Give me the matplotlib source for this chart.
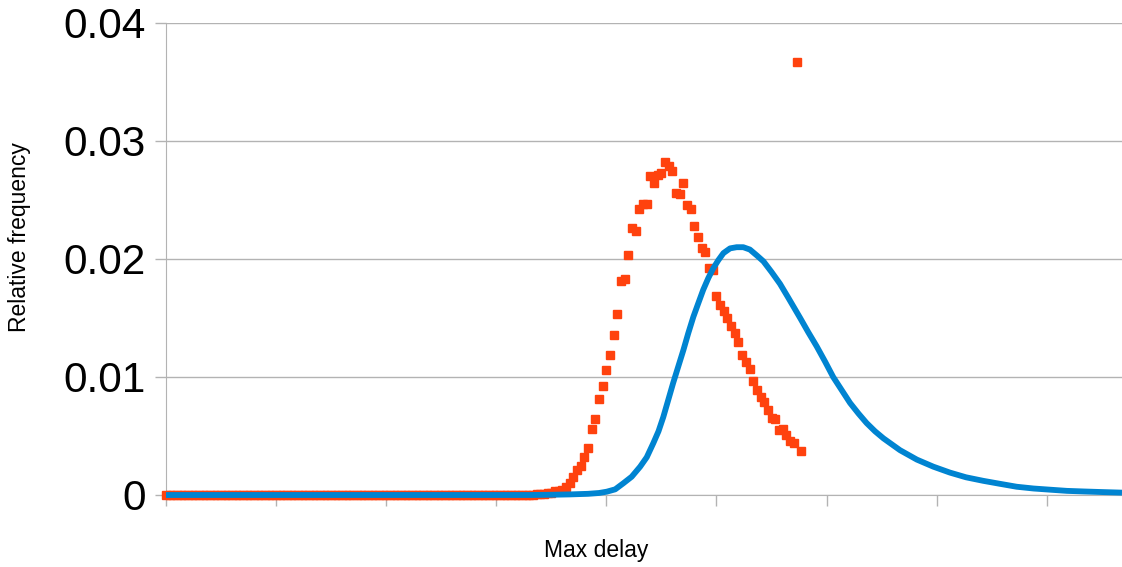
"""Max delay distribution: observed relative frequency vs fitted curve."""

import matplotlib

matplotlib.use("Agg")
import matplotlib.pyplot as plt

# observed relative frequency, one value per delay step (0..173)
obs_zero = [0.0] * 101
obs_tail = [
    0.0001, 0.0001, 0.0001, 0.0002, 0.0002, 0.0003, 0.0003,
    0.0004, 0.0007, 0.0010, 0.0015, 0.0021, 0.0025, 0.0032, 0.0040,
    0.0056, 0.0064, 0.0081, 0.0092, 0.0106, 0.0119, 0.0136, 0.0153,
    0.0181, 0.0183, 0.0203, 0.0226, 0.0224, 0.0242, 0.0247, 0.0247,
    0.0270, 0.0264, 0.0271, 0.0273, 0.0282, 0.0279, 0.0275, 0.0256,
    0.0255, 0.0264, 0.0246, 0.0242, 0.0228, 0.0219, 0.0209, 0.0206,
    0.0192, 0.0191, 0.0169, 0.0161, 0.0156, 0.0150, 0.0143, 0.0137,
    0.0130, 0.0119, 0.0113, 0.0107, 0.0097, 0.0089, 0.0083, 0.0079,
    0.0072, 0.0065, 0.0064, 0.0055, 0.0056, 0.0051, 0.0046, 0.0044,
    0.0367, 0.0037,
]
obs_y = obs_zero + obs_tail
obs_x = list(range(len(obs_y)))

# fitted curve
fit_x = [0, 60, 99, 105, 110, 115, 118, 120.1, 122.4, 124.6, 126.9, 129.2,
         131.0, 132.8, 134.2, 135.5, 136.9, 138.2, 139.6, 141.0, 142.3, 143.7,
         145.1, 146.4, 147.8, 149.1, 150.5, 151.9, 153.7, 155.5, 157.3, 159.1,
         161.0, 162.8, 165.0, 167.3, 169.6, 172.8, 175.0, 177.3, 179.6, 181.8,
         184.1, 186.4, 188.7, 190.9, 193.2, 195.5, 200.0, 204.6, 209.1, 213.6,
         218.0, 222.7, 227.2, 231.8, 236.4, 240.9, 245.5, 250.0, 255.0, 260.5]
fit_y = [0.0, 0.0, 0.0, 0.00002, 0.00005, 0.0001, 0.00017, 0.00028, 0.00048,
         0.00099, 0.00155, 0.0024, 0.0032, 0.0044, 0.0054, 0.0066, 0.0081,
         0.0095, 0.0109, 0.0123, 0.0137, 0.0151, 0.0163, 0.0174, 0.0184,
         0.0192, 0.0199, 0.0205, 0.0209, 0.0210, 0.0210, 0.0208, 0.0203,
         0.0198, 0.0189, 0.0179, 0.0167, 0.0150, 0.0138, 0.0126, 0.0113,
         0.0100, 0.0089, 0.0078, 0.0069, 0.0061, 0.0054, 0.0048, 0.0038,
         0.0030, 0.0024, 0.0019, 0.0015, 0.0012, 0.00095, 0.0007, 0.00055,
         0.00045, 0.00035, 0.0003, 0.00025, 0.0002]

x_ticks = list(range(0, 241, 30))
y_ticks = [0, 0.01, 0.02, 0.03, 0.04]
y_tick_labels = ["0", "0.01", "0.02", "0.03", "0.04"]

grey = "#b3b3b3"
plt.rcParams["font.family"] = ["Liberation Sans", "DejaVu Sans"]

fig = plt.figure(figsize=(11.22, 5.67), dpi=100)
ax = fig.add_axes([166 / 1122, 1 - 495 / 567, 956 / 1122, 472 / 567])

ax.plot(obs_x, obs_y, ls="none", marker="s", ms=5.8, color="#ff420e",
        mec="#ff420e", clip_on=False, zorder=3)
ax.plot(fit_x, fit_y, color="#0084d1", lw=4.2, solid_joinstyle="round",
        solid_capstyle="butt", clip_on=False, zorder=4)

ax.set_xlim(0, 260.5)
ax.set_ylim(0, 0.04)
ax.set_xticks(x_ticks)
ax.set_xticklabels([])
ax.set_yticks(y_ticks)
ax.set_yticklabels(y_tick_labels, fontsize=30.5)
ax.tick_params(axis="both", direction="out", length=8, width=1, color=grey, pad=6.5)
ax.yaxis.grid(True, color=grey, lw=1)
ax.set_axisbelow(True)
for side in ["top", "right"]:
    ax.spines[side].set_visible(False)
for side in ["left", "bottom"]:
    ax.spines[side].set_color(grey)

fig.text(596 / 1122, 1 - 551 / 567, "Max delay", fontsize=16.5,
         ha="center", va="center")
fig.text(20 / 1122, 1 - 237 / 567, "Relative frequency", fontsize=16.5,
         rotation=90, ha="center", va="center")

fig.savefig("out.png", dpi=100)
plt.close(fig)
